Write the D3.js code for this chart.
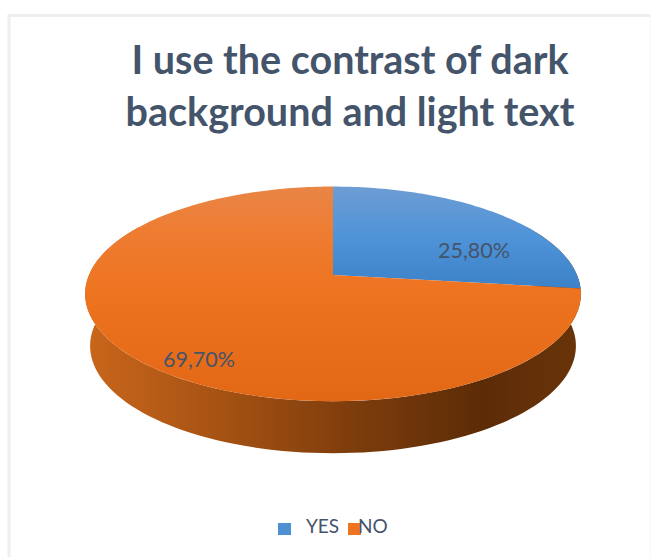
<!DOCTYPE html>
<html><head><meta charset="utf-8">
<script src="https://cdn.jsdelivr.net/npm/d3@7"></script>
<style>html,body{margin:0;padding:0;background:#fff}svg{display:block}</style>
</head><body><svg id="c" width="655" height="557"></svg>
<script>
const categories = ["YES", "NO"];
const values = [25.8, 69.7];
const valueLabels = ["25,80%", "69,70%"];
const titleLines = ["I use the contrast of dark", "background and light text"];

const svg = d3.select("#c");
const defs = svg.append("defs");
function grad(id, x2, y2, stops){
  const g = defs.append("linearGradient").attr("id", id).attr("x1",0).attr("y1",0).attr("x2",x2).attr("y2",y2);
  stops.forEach(s => g.append("stop").attr("offset", s[0]).attr("stop-color", s[1]));
}
grad("gYes",0,1,[[0,"#6d9dd3"],[0.5,"#4f93d8"],[1,"#3c82c8"]]);
grad("gNo",0,1,[[0,"#e98546"],[0.2,"#ee7d33"],[0.5,"#ee731f"],[1,"#e36816"]]);
grad("gWall",1,0,[[0,"#c9661b"],[0.25,"#a95414"],[0.55,"#7c3c0c"],[0.8,"#5c2c07"],[1,"#6a3409"]]);

// frame
svg.append("path").attr("d","M9,557V15.5H650").attr("fill","none").attr("stroke","#efefef").attr("stroke-width",3);
svg.append("path").attr("d","M650.5,15V557").attr("fill","none").attr("stroke","#f7f7f7").attr("stroke-width",1);

// perspective projection of a unit disc
const cx = 333, apexY = 275, k = 0.176, A = 104, B = 244, depth = 52;
function proj(a, r, dy){
  const u = r*Math.sin(a), v = r*Math.cos(a), w = 1 + k*v;
  const sh = 1 - (dy/depth)*0.02;
  return [cx + sh*B*u/w, apexY + dy - A*v/w];
}
const pieGen = d3.pie().sort(null).value(d => d);
const arcs = pieGen(values);
const line = d3.line();

// side wall
const front = d3.range(60, 300.5, 2).map(d => d*Math.PI/180);
const wallPts = front.map(a => proj(a,1,0)).concat(front.slice().reverse().map(a => proj(a,1,depth)));
svg.append("path").attr("d", line(wallPts)+"Z").attr("fill","url(#gWall)");

// top slices
const fills = ["url(#gYes)","url(#gNo)"];
svg.selectAll("path.slice").data(arcs).join("path").attr("class","slice")
  .attr("fill",(d,i)=>fills[i])
  .attr("d", d => {
    const n = Math.ceil((d.endAngle-d.startAngle)/0.02);
    const pts = [[cx,apexY]];
    for(let i=0;i<=n;i++) pts.push(proj(d.startAngle+(d.endAngle-d.startAngle)*i/n,1,0));
    return line(pts)+"Z";
  });

// value labels
svg.selectAll("text.val").data(arcs).join("text").attr("class","val")
  .attr("font-family","Lato, sans-serif").attr("font-size",21.5).attr("fill","#44546a").attr("text-anchor","middle")
  .attr("x",(d,i)=>i===0?474:199).attr("y",(d,i)=>i===0?258:367)
  .text((d,i)=>valueLabels[i]);

// title
svg.selectAll("text.title").data(titleLines).join("text").attr("class","title")
  .attr("font-family","Lato, sans-serif").attr("font-weight",700).attr("font-size",39.5).attr("fill","#44546a")
  .attr("text-anchor","middle").attr("x",350).attr("y",(d,i)=>74+i*52).text(d=>d);

// legend
const legendColor = ["#4f90d2","#ee7420"];
const legendX = d3.scaleOrdinal().domain(categories).range([278,348]);
const lg = svg.selectAll("g.lg").data(categories).join("g").attr("class","lg")
  .attr("transform",d=>`translate(${legendX(d)},523)`);
lg.append("rect").attr("width",13).attr("height",12).attr("fill",(d,i)=>legendColor[i]);
lg.append("text").attr("x",(d,i)=>i===0?28:10).attr("y",10).attr("font-family","Lato, sans-serif").attr("font-size",19).attr("fill","#44546a").text(d=>d);
</script></body></html>
